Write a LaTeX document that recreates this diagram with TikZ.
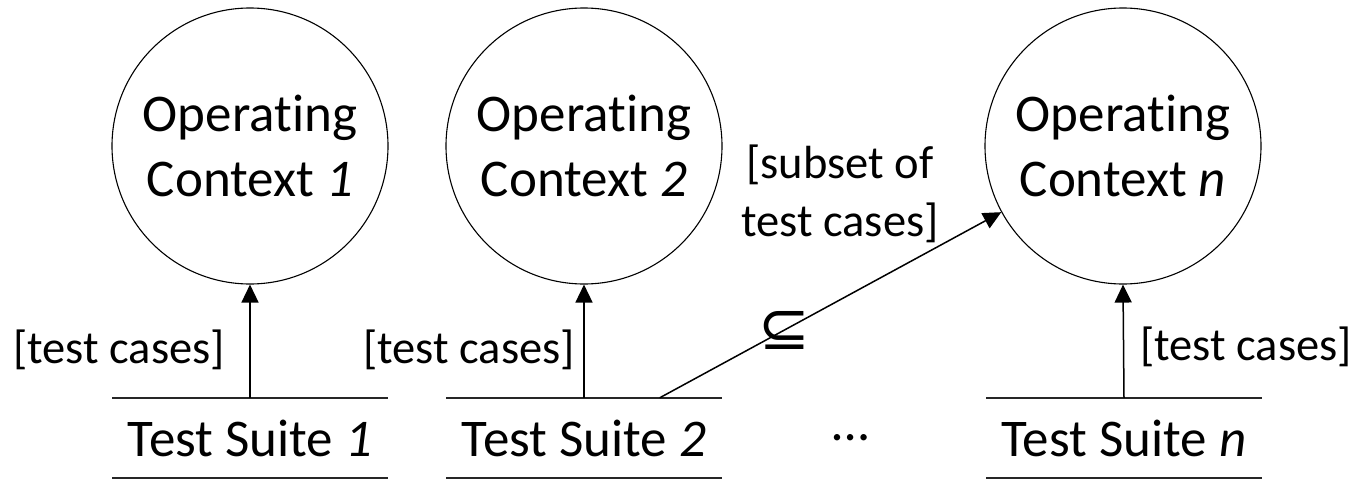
\documentclass[tikz,border=0pt]{standalone}
\usepackage{fontspec}
\setmainfont{Carlito}[Ligatures={NoCommon,NoContextual,NoRequired}]
\newfontfamily\symbolfont{DejaVu Sans}
\usetikzlibrary{arrows.meta,calc}

% "Operating" set without the t-i ligature
\newcommand{\opword}{Operat\kern0pt ing}

\tikzset{
  context/.style={circle, draw, line width=1.1pt, minimum size=276pt, inner sep=0pt,
    align=center, font=\fontsize{53}{65}\selectfont},
  suite/.style={rectangle, minimum width=275pt, minimum height=80pt, inner sep=0pt,
    font=\fontsize{53}{65}\selectfont},
  rule/.style={line width=1.5pt, draw=black!85},
  flow/.style={line width=1.5pt, -{Triangle[length=18pt,width=17pt]}},
  tag/.style={font=\fontsize{46.5}{58}\selectfont, inner sep=0pt},
}

\begin{document}
\begin{tikzpicture}[x=1pt, y=-1pt]
  \useasboundingbox (0,0) rectangle (1361,479);

  % operating contexts
  \node[context] (oc1) at (250,146) {\opword\\Context \textit{1}};
  \node[context] (oc2) at (584,146) {\opword\\Context \textit{2}};
  \node[context] (ocn) at (1123,146) {\opword\\Context \textit{n}};

  % test suites, each between two rules
  \node[suite] (ts1) at (250,438) {Test Suite \textit{1}};
  \node[suite] (ts2) at (584,438) {Test Suite \textit{2}};
  \node[suite] (tsn) at (1124,438) {Test Suite \textit{n}};
  \node[suite, minimum width=0pt] (dots) at (851,438) {…};
  \foreach \s in {ts1,ts2,tsn}{
    \draw[rule] (\s.north west) -- (\s.north east);
    \draw[rule] (\s.south west) -- (\s.south east);
  }

  % test cases flowing into each context
  \draw[flow] (ts1.north) -- (oc1.south);
  \draw[flow] (ts2.north) -- (oc2.south);
  \draw[flow] (tsn.north) -- (ocn.south);
  \coordinate (sub) at ($(ts2.north west)!0.775!(ts2.north east)$);
  \draw[flow] (sub) -- (ocn)
    node[pos=0.365, inner sep=0pt, font=\symbolfont\fontsize{62}{62}\selectfont] (incl) {⊆};

  % connector labels
  \node[tag, anchor=base west] (l1) at (13,363) {[test cases]};
  \node[tag, anchor=base west] (l2) at (363,363) {[test cases]};
  \node[tag, anchor=base west] (ln) at (1140,360) {[test cases]};
  \node[tag, align=center, anchor=base] (lsub) at (840,236) {[subset of\\test cases]};
\end{tikzpicture}
\end{document}
